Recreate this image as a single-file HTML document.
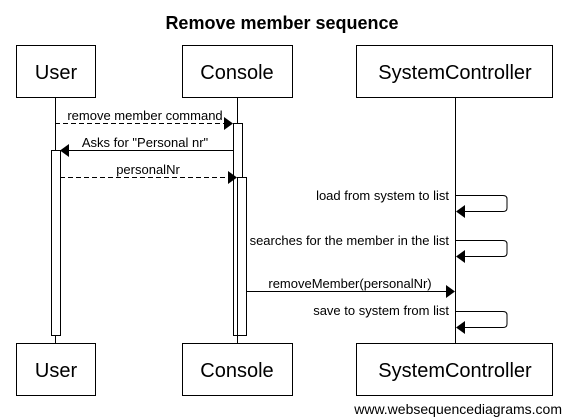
<!DOCTYPE html>
<html><head><style>body{margin:0;background:#fff}svg{display:block}text{font-family:"Liberation Sans",sans-serif;fill:#000}</style></head><body>
<svg width="564" height="418" viewBox="0 0 564 418" xmlns="http://www.w3.org/2000/svg">
<text x="282" y="29" font-size="18" font-weight="bold" text-anchor="middle">Remove member sequence</text>
<g stroke="#000" stroke-width="1" fill="none">
<line x1="55.5" y1="97" x2="55.5" y2="343"/>
<line x1="237.5" y1="97" x2="237.5" y2="343"/>
<line x1="455.5" y1="97" x2="455.5" y2="343"/>
<rect x="16.5" y="45.5" width="79" height="52" fill="#fff"/>
<rect x="182.5" y="45.5" width="110" height="52" fill="#fff"/>
<rect x="356.5" y="45.5" width="196" height="52" fill="#fff"/>
<rect x="16.5" y="343.5" width="79" height="52" fill="#fff"/>
<rect x="182.5" y="343.5" width="110" height="52" fill="#fff"/>
<rect x="356.5" y="343.5" width="196" height="52" fill="#fff"/>
<rect x="233.5" y="123.5" width="9" height="212" fill="#fff"/>
<rect x="51.5" y="150.5" width="9" height="185" fill="#fff"/>
<rect x="237.5" y="177.5" width="9" height="158" fill="#fff"/>
<line x1="55" y1="123.5" x2="225" y2="123.5" stroke-dasharray="5,3"/>
<line x1="68" y1="150.5" x2="233" y2="150.5"/>
<line x1="60" y1="177.5" x2="229" y2="177.5" stroke-dasharray="5,3"/>
<line x1="246" y1="291.5" x2="447" y2="291.5"/>
<path d="M456 195.5 H503 Q507 195.5 507 199 V208 Q507 211.5 503 211.5 H464"/>
<path d="M456 240.5 H503 Q507 240.5 507 244 V253 Q507 256.5 503 256.5 H464"/>
<path d="M456 311.5 H503 Q507 311.5 507 315 V324 Q507 327.5 503 327.5 H464"/>
</g>
<g fill="#000">
<polygon points="224,117 233,123.5 224,130"/>
<polygon points="69,144 60,150.5 69,157"/>
<polygon points="228,171 237,177.5 228,184"/>
<polygon points="446,285 455,291.5 446,298"/>
<polygon points="465,205 456,211.5 465,218"/>
<polygon points="465,250 456,256.5 465,263"/>
<polygon points="465,321 456,327.5 465,334"/>
</g>
<g font-size="20" text-anchor="middle">
<text x="56" y="79">User</text><text x="237" y="79">Console</text><text x="455" y="79">SystemController</text>
<text x="56" y="377">User</text><text x="237" y="377">Console</text><text x="455" y="377">SystemController</text>
</g>
<g font-size="13" text-anchor="middle">
<text x="145" y="120">remove member command</text>
<text x="145" y="147">Asks for "Personal nr"</text>
<text x="148" y="174">personalNr</text>
<text x="350" y="288">removeMember(personalNr)</text>
</g>
<g font-size="13" text-anchor="end">
<text x="449" y="200">load from system to list</text>
<text x="449" y="245">searches for the member in the list</text>
<text x="449" y="315">save to system from list</text>
</g>
<text x="562" y="414" font-size="14" text-anchor="end">www.websequencediagrams.com</text>
</svg>
</body></html>
